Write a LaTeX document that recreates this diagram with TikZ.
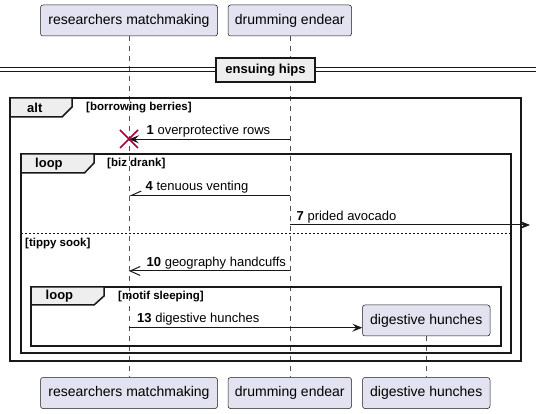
\documentclass[tikz,border=0pt]{standalone}
\usepackage{fontspec}
\setmainfont{Liberation Sans}
\usetikzlibrary{arrows.meta}
\definecolor{partfill}{HTML}{E2E2F0}
\definecolor{ink}{HTML}{181818}
\definecolor{tabfill}{HTML}{EEEEEE}
\definecolor{destroyred}{HTML}{A80036}
\begin{document}
\begin{tikzpicture}[x=1pt,y=-1pt,
  participant/.style={draw=ink, line width=0.5pt, fill=partfill, rounded corners=2.5pt,
    minimum height=31pt, inner sep=0pt, font=\fontsize{14}{16}\selectfont},
  lifeline/.style={draw=ink!75, line width=0.5pt, dash pattern=on 5pt off 5pt},
  msg/.style={draw=ink, line width=1pt},
  fullhead/.style={-{Stealth[length=10pt,width=8pt,inset=4pt]}},
  openhead/.style={-{Straight Barb[length=10pt,width=9pt,line width=1pt]}},
  halfhead/.style={-{Straight Barb[harpoon,swap,length=10pt,width=9pt,line width=1pt]}},
  msglabel/.style={anchor=base west, inner sep=0pt, font=\fontsize{13}{15}\selectfont},
  frameline/.style={draw=ink, line width=1.5pt},
  tab/.style={fill=tabfill, draw=ink, line width=1.5pt},
  kind/.style={anchor=west, inner sep=0pt, font=\bfseries\fontsize{13}{15}\selectfont},
  guard/.style={anchor=west, inner sep=0pt, font=\bfseries\fontsize{11.5}{13}\selectfont},
  elseline/.style={draw=ink, line width=0.8pt, dash pattern=on 2pt off 2pt}
]
\useasboundingbox (0,0) rectangle (536,414);

% participants, top and bottom
\node[participant, minimum width=177pt]   (topR) at (129,20.5) {researchers matchmaking};
\node[participant, minimum width=123.5pt] (topD) at (289.75,20.5) {drumming endear};
\node[participant, minimum width=177pt]   (botR) at (129,393) {researchers matchmaking};
\node[participant, minimum width=123.5pt] (botD) at (289.75,393) {drumming endear};
\node[participant, minimum width=127.5pt] (botH) at (426.25,393) {digestive hunches};

% lifelines
\draw[lifeline] (topR.south) -- (botR.north);
\draw[lifeline] (topD.south) -- (botD.north);
\draw[lifeline] (426.25,336) -- (botH.north);

% divider
\draw[ink, line width=1pt] (0,68) -- (536,68) (0,71.5) -- (536,71.5);
\node[fill=tabfill, draw=ink, line width=2pt, minimum width=99pt, minimum height=24pt,
  inner sep=0pt, font=\bfseries\fontsize{13}{15}\selectfont] (divider) at (265.5,70) {ensuing hips};

% alt frame
\draw[frameline] (10,98) rectangle (521,361);
\draw[tab] (10,98) -- (72,98) -- (72,107) -- (62,117) -- (10,117) -- cycle;
\node[kind] (altkind) at (27,107.5) {alt};
\node[guard] (altguard) at (86,107.5) {[borrowing berries]};

% loop inside first branch
\draw[frameline] (21,154) rectangle (511,353);
\draw[tab] (21,154) -- (94,154) -- (94,163) -- (84.5,173) -- (21,173) -- cycle;
\node[kind] (loopkindA) at (35,164) {loop};
\node[guard] (loopguardA) at (107,164) {[biz drank]};

% else separator
\draw[elseline] (21,233.3) -- (511,233.3);
\node[guard] (elseguard) at (25,243.3) {[tippy sook]};

% nested loop
\draw[frameline] (31,287) rectangle (501,346);
\draw[tab] (31,287) -- (104,287) -- (104,296) -- (94,305) -- (31,305) -- cycle;
\node[kind] (loopkindB) at (45.5,296.5) {loop};
\node[guard] (loopguardB) at (118,296.5) {[motif sleeping]};

% created participant
\node[participant, minimum width=127.5pt] (digH) at (426.25,320.5) {digestive hunches};

% messages
\draw[msg, fullhead] (topD |- 0,139.3) -- (topR |- 0,139.3);
\node[msglabel] (l1) at (146.5,135) {\textbf{1} overprotective rows};
\draw[destroyred, line width=1.5pt] (120,130) -- (138,148) (120,148) -- (138,130);

\draw[msg, halfhead] (topD |- 0,195.5) -- (topR |- 0,195.5);
\node[msglabel] (l4) at (145.5,191) {\textbf{4} tenuous venting};

\coordinate (offright) at (530,225);
\draw[msg, fullhead] (topD |- offright) -- (offright);
\node[msglabel] (l7) at (296.5,220.5) {\textbf{7} prided avocado};

\draw[msg, openhead] (topD |- 0,271) -- (topR |- 0,271);
\node[msglabel] (l10) at (146.5,266.5) {\textbf{10} geography handcuffs};

\draw[msg, fullhead] (topR |- 0,327.7) -- (digH.west |- 0,327.7);
\node[msglabel] (l13) at (137,323) {\textbf{13} digestive hunches};
\end{tikzpicture}
\end{document}
